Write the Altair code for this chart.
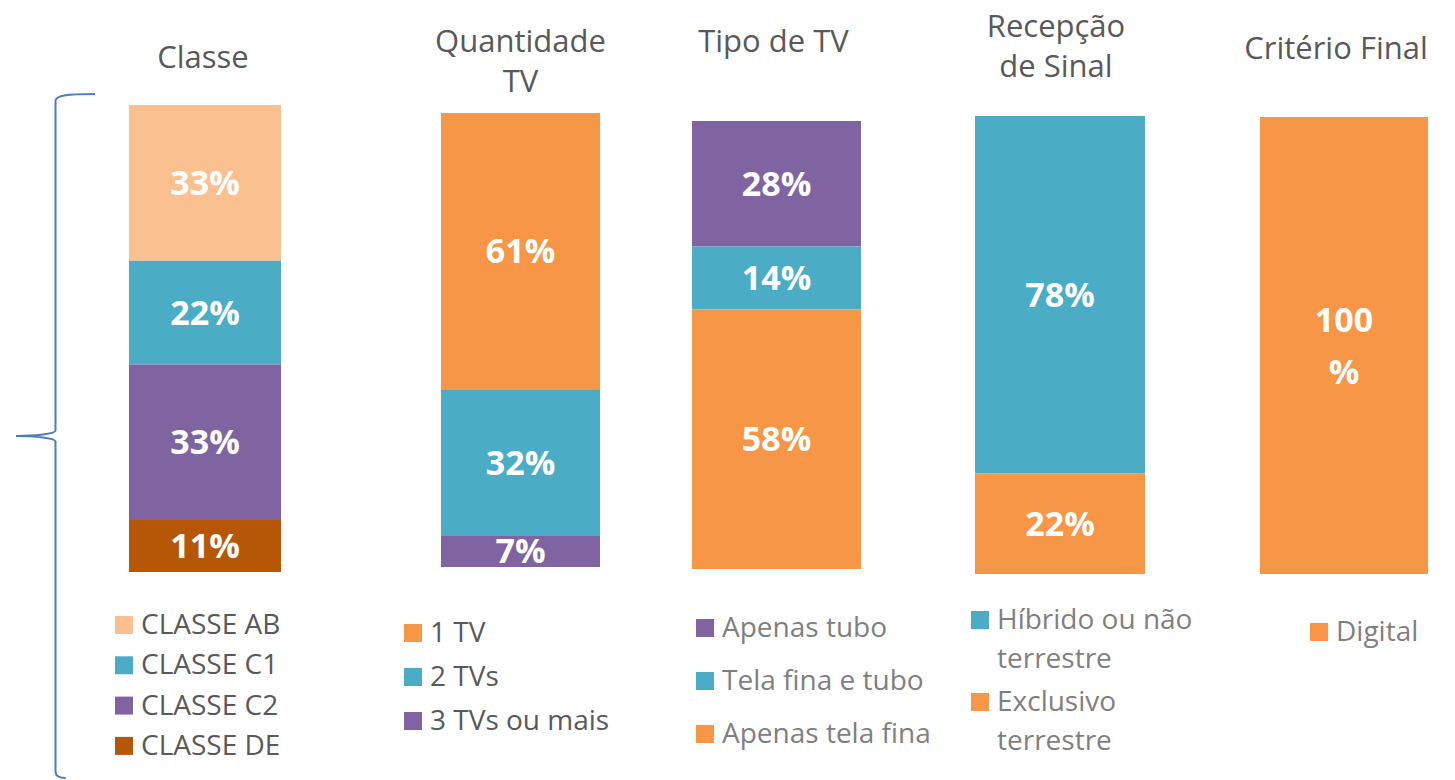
import altair as alt
import pandas as pd

# ---------------- data ----------------
panel_names = ["classe", "qtd", "tipo", "recep", "crit"]
panel_titles = ["Classe", "Quantidade\nTV", "Tipo de TV", "Recepção\nde Sinal", "Critério Final"]

classe_cats = ["CLASSE AB", "CLASSE C1", "CLASSE C2", "CLASSE DE"]
classe_vals = [33, 22, 33, 11]
qtd_cats = ["1 TV", "2 TVs", "3 TVs ou mais"]
qtd_vals = [61, 32, 7]
tipo_cats = ["Apenas tubo", "Tela fina e tubo", "Apenas tela fina"]
tipo_vals = [28, 14, 58]
recep_cats = ["Híbrido ou não\nterrestre", "Exclusivo\nterrestre"]
recep_vals = [78, 22]
crit_cats = ["Digital"]
crit_vals = [100]

# ---------------- styles ----------------
LIGHT_ORANGE = "#FAC090"
BLUE = "#4BACC6"
PURPLE = "#8064A2"
DARK_ORANGE = "#B65708"
ORANGE = "#F79646"
classe_colors = [LIGHT_ORANGE, BLUE, PURPLE, DARK_ORANGE]
qtd_colors = [ORANGE, BLUE, PURPLE]
tipo_colors = [PURPLE, BLUE, ORANGE]
recep_colors = [BLUE, ORANGE]
crit_colors = [ORANGE]

FONT = "Open Sans"
TITLE_COLOR = "#595959"
BRACE_COLOR = "#4A7EBB"

PANELS = [
    (classe_cats, classe_vals, classe_colors),
    (qtd_cats, qtd_vals, qtd_colors),
    (tipo_cats, tipo_vals, tipo_colors),
    (recep_cats, recep_vals, recep_colors),
    (crit_cats, crit_vals, crit_colors),
]

# layout (page pixels of the reference)
ROW_TOP = 105
H = 469
PANEL_LEFT = [100, 360, 646, 918, 1202]
BAR_LAYOUT = [
    # panel width, bar offset, bar width, bar top, bar bottom, title baseline, title dx, wrap label
    dict(w=260, off=29, bw=152, top=105, bottom=572, tb=68, tdx=-2, wrap=False),
    dict(w=286, off=81, bw=159, top=113, bottom=567, tb=52, tdx=0, wrap=False),
    dict(w=272, off=46, bw=169, top=121, bottom=569, tb=52, tdx=-3, wrap=False),
    dict(w=284, off=57, bw=170, top=116, bottom=574, tb=37, tdx=-4, wrap=False),
    dict(w=238, off=58, bw=168, top=117, bottom=574, tb=59, tdx=-8, wrap=True),
]
LEG_TOP = ROW_TOP + H
LEG_LAYOUT = [
    # square left edge, item step, first item centre, text colour
    dict(sq=115, step=40.3, first=625, color="#595959"),
    dict(sq=404, step=44, first=633, color="#595959"),
    dict(sq=696, step=53, first=628, color="#7F7F7F"),
    dict(sq=971, step=82, first=620, color="#7F7F7F"),
    dict(sq=1310, step=40, first=632, color="#7F7F7F"),
]

BRACE_PATH = ("M 0.1155 -1 C 0.03 -1 0 -0.995 0 -0.98 L 0 -0.016 "
              "C 0 -0.006 -0.06 0 -0.1155 0 C -0.06 0 0 0.006 0 0.016 "
              "L 0 0.98 C 0 0.995 0.01 1 0.03 1")


def bar_panel(i):
    cats, vals, cols = PANELS[i]
    L = BAR_LAYOUT[i]
    n = len(cats)
    total = sum(vals)
    labels = [(f"{v}\n%" if L["wrap"] else f"{v}%") for v in vals]
    df = pd.DataFrame({"panel": panel_names[i], "cat": cats, "value": vals,
                       "idx": list(range(n)), "label": labels})
    pt = L["top"] - ROW_TOP
    pb = L["bottom"] - ROW_TOP
    k = (pb - pt) / total
    hi = total + pt / k
    lo = hi - H / k
    po = (L["w"] / L["bw"] - 1) / 2
    al = L["off"] / (L["w"] - L["bw"])
    xs = alt.X("panel:N", axis=None,
               scale=alt.Scale(paddingInner=0, paddingOuter=po, align=al))
    ys = alt.Scale(domain=[lo, hi], nice=False, zero=False)
    color = alt.Color("cat:N", scale=alt.Scale(domain=cats, range=cols), legend=None)
    base = alt.Chart(df)
    bars = base.mark_bar().encode(
        x=xs,
        y=alt.Y("value:Q", stack="zero", scale=ys, axis=None),
        color=color,
        order=alt.Order("idx:Q", sort="descending"),
    )
    text = base.transform_window(
        cum="sum(value)", sort=[alt.SortField("idx", order="descending")], frame=[None, 0]
    ).transform_calculate(mid="datum.cum - datum.value / 2").mark_text(
        font=FONT, fontSize=34, fontWeight="bold", color="white",
        lineBreak="\n", lineHeight=52, dy=(-24 if L["wrap"] else 2),
    ).encode(x=xs, y=alt.Y("mid:Q", scale=ys, axis=None), text="label:N")
    tdf = pd.DataFrame({"panel": [panel_names[i]], "title": [panel_titles[i]]})
    title = alt.Chart(tdf).mark_text(
        font=FONT, fontSize=31, color=TITLE_COLOR, baseline="alphabetic",
        lineBreak="\n", lineHeight=40, dx=L["tdx"],
    ).encode(x=xs, y=alt.value(L["tb"] - ROW_TOP), text="title:N")
    layers = [bars, text, title]
    if i == 0:
        brace = alt.Chart(pd.DataFrame({"a": [0]})).mark_point(
            shape=BRACE_PATH, size=684 ** 2, filled=False, color=BRACE_COLOR,
            strokeWidth=2, opacity=1,
        ).encode(x=alt.value(55.5 - PANEL_LEFT[0]), y=alt.value(436 - ROW_TOP))
        layers.append(brace)
    return alt.layer(*layers).properties(width=L["w"], height=H)


def legend_panel(i):
    cats, vals, cols = PANELS[i]
    L = LEG_LAYOUT[i]
    n = len(cats)
    df = pd.DataFrame({"cat": cats, "idx": list(range(n))})
    yoff = L["first"] - L["step"] / 2 - LEG_TOP
    sq = L["sq"] - PANEL_LEFT[i]
    ys = alt.Y("cat:N", sort=cats, axis=None,
               scale=alt.Scale(paddingInner=0, paddingOuter=0))
    color = alt.Color("cat:N", scale=alt.Scale(domain=cats, range=cols), legend=None)
    base = alt.Chart(df)
    squares = base.mark_square(size=324, opacity=1, yOffset=yoff).encode(
        x=alt.value(sq + 9), y=ys, color=color)
    tx = base.mark_text(
        font=FONT, fontSize=28, color=L["color"], align="left", baseline="alphabetic",
        dy=9, yOffset=yoff, lineBreak="\n", lineHeight=39,
    ).encode(x=alt.value(sq + 26), y=ys, text="cat:N")
    return alt.layer(squares, tx).properties(width=BAR_LAYOUT[i]["w"], height=n * L["step"])


res = dict(x="independent", y="independent", color="independent")
chart = alt.concat(
    *[bar_panel(i) for i in range(5)],
    *[legend_panel(i) for i in range(5)],
    columns=5, spacing=0, bounds="flush", align="each",
).resolve_scale(**res).properties(
    padding={"left": 3, "top": 4, "right": 0, "bottom": 0},
    background="white",
).configure_view(stroke=None)

chart.save("out.html", embed_options={"renderer": "svg", "actions": False})
